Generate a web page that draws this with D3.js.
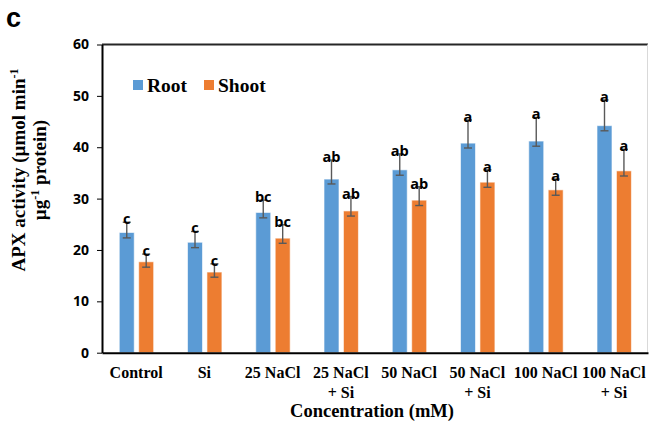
<!DOCTYPE html>
<html lang="en">
<head>
    <meta charset="UTF-8">
    <script src="https://d3js.org/d3.v7.min.js"></script>
    <style>
        body { margin: 0; background: #fff; }
    </style>
</head>
<body>
    <div id="chart"></div>
    <script>
        // values
        var categories = ["Control", "Si", "25 NaCl", "25 NaCl\n+ Si", "50 NaCl", "50 NaCl\n+ Si", "100 NaCl", "100 NaCl\n+ Si"];
        var series = ["Root", "Shoot"];
        var rootValues = [23.4, 21.5, 27.3, 33.8, 35.6, 40.8, 41.2, 44.2];
        var shootValues = [17.7, 15.7, 22.3, 27.6, 29.7, 33.2, 31.7, 35.4];
        // error bars look uneven in the picture: upper / lower part
        var rootErrUp = [2.0, 2.1, 2.4, 3.7, 3.1, 4.5, 4.6, 5.0];
        var rootErrDown = [1.05, 1.05, 1.05, 0.95, 1.05, 0.95, 1.0, 1.0];
        var shootErrUp = [1.5, 1.6, 2.6, 2.8, 2.6, 2.4, 2.1, 4.2];
        var shootErrDown = [1.05, 1.0, 1.0, 1.0, 1.05, 1.0, 1.05, 1.0];
        var rootLetters = ["c", "c", "bc", "ab", "ab", "a", "a", "a"];
        var shootLetters = ["c", "c", "bc", "ab", "ab", "a", "a", "a"];
        var yTicks = [0, 10, 20, 30, 40, 50, 60];

        var colors = { Root: "#5b9bd5", Shoot: "#ed7d31" };

        var width = 649, height = 423;
        var margin = { left: 102, right: 1, top: 44.5, bottom: 70.3 };

        var svg = d3.select("#chart")
            .append("svg")
            .attr("width", width)
            .attr("height", height);

        var x0 = d3.scaleBand()
            .domain(categories)
            .range([margin.left, width - margin.right])
            .padding(0);

        var bw = x0.bandwidth();
        var x1 = d3.scaleBand()
            .domain(series)
            .range([0.253 * bw, 0.757 * bw])
            .paddingInner(0.23);

        var y = d3.scaleLinear()
            .domain([0, 60])
            .range([height - margin.bottom, margin.top]);

        var rows = [];
        categories.forEach(function (c, i) {
            rows.push({ cat: c, s: "Root", v: rootValues[i], up: rootErrUp[i], down: rootErrDown[i], letter: rootLetters[i] });
            rows.push({ cat: c, s: "Shoot", v: shootValues[i], up: shootErrUp[i], down: shootErrDown[i], letter: shootLetters[i] });
        });

        // panel letter
        svg.append("text")
            .attr("x", 6)
            .attr("y", 27)
            .style("font-family", "Liberation Sans, Arial, sans-serif")
            .style("font-weight", "bold")
            .style("font-size", "27px")
            .text("c");

        // top and right frame
        svg.append("line")
            .attr("x1", margin.left).attr("x2", width - margin.right)
            .attr("y1", y(60)).attr("y2", y(60))
            .attr("stroke", "#262626").attr("stroke-width", 2);
        svg.append("line")
            .attr("x1", width - margin.right - 0.5).attr("x2", width - margin.right - 0.5)
            .attr("y1", y(60)).attr("y2", y(0))
            .attr("stroke", "#d9d9d9").attr("stroke-width", 1);

        // bars
        svg.append("g")
            .selectAll("rect")
            .data(rows)
            .enter()
            .append("rect")
            .attr("x", function (d) { return x0(d.cat) + x1(d.s); })
            .attr("y", function (d) { return y(d.v); })
            .attr("width", x1.bandwidth())
            .attr("height", function (d) { return y(0) - y(d.v); })
            .attr("fill", function (d) { return colors[d.s]; })
            .attr("stroke", "#ffffff")
            .attr("stroke-opacity", 0.6)
            .attr("stroke-width", 1);

        // error bars
        var eb = svg.append("g")
            .attr("stroke", "#595959")
            .attr("stroke-width", 1.4)
            .selectAll("g")
            .data(rows)
            .enter()
            .append("g")
            .attr("transform", function (d) { return "translate(" + (x0(d.cat) + x1(d.s) + x1.bandwidth() / 2) + ",0)"; });
        eb.append("line")
            .attr("y1", function (d) { return y(d.v + d.up); })
            .attr("y2", function (d) { return y(d.v - d.down); });
        eb.append("line")
            .attr("x1", -4).attr("x2", 4)
            .attr("y1", function (d) { return y(d.v + d.up); })
            .attr("y2", function (d) { return y(d.v + d.up); });
        eb.append("line")
            .attr("x1", -4).attr("x2", 4)
            .attr("y1", function (d) { return y(d.v - d.down); })
            .attr("y2", function (d) { return y(d.v - d.down); });

        // significance letters
        svg.append("g")
            .selectAll("text")
            .data(rows)
            .enter()
            .append("text")
            .attr("x", function (d) { return x0(d.cat) + x1(d.s) + x1.bandwidth() / 2; })
            .attr("y", function (d) { return y(d.v + d.up) + 2; })
            .attr("text-anchor", "middle")
            .style("font-family", "Open Sans, sans-serif")
            .style("font-weight", "bold")
            .style("font-size", "14.5px")
            .attr("fill", "#000")
            .text(function (d) { return d.letter; });

        // y axis
        var yAxis = svg.append("g")
            .attr("transform", "translate(" + margin.left + ",0)")
            .call(d3.axisLeft(y).tickValues(yTicks).tickSize(5).tickSizeOuter(0).tickPadding(8));
        yAxis.select(".domain").attr("stroke", "#000").attr("stroke-width", 2);
        yAxis.selectAll(".tick line").attr("stroke", "#000").attr("stroke-width", 1);
        yAxis.selectAll(".tick text")
            .style("font-family", "Open Sans, sans-serif")
            .style("font-weight", "bold")
            .style("font-size", "14px")
            .attr("fill", "#000");

        // x axis
        var xAxis = svg.append("g")
            .attr("transform", "translate(0," + y(0) + ")")
            .call(d3.axisBottom(x0).tickSize(0).tickSizeOuter(0).tickFormat(""));
        xAxis.select(".domain").attr("stroke", "#000").attr("stroke-width", 2);

        var catLabels = svg.append("g")
            .selectAll("text")
            .data(categories)
            .enter()
            .append("text")
            .attr("x", function (d) { return x0(d) + bw / 2; })
            .attr("y", y(0) + 25)
            .attr("text-anchor", "middle")
            .style("font-family", "Liberation Serif, Times New Roman, serif")
            .style("font-weight", "bold")
            .style("font-size", "16px");
        catLabels.selectAll("tspan")
            .data(function (d) { return d.split("\n"); })
            .enter()
            .append("tspan")
            .attr("x", function () { var p = this.parentNode.__data__; return x0(p) + bw / 2; })
            .attr("dy", function (d, i) { return i === 0 ? 0 : 20; })
            .text(function (d) { return d; });

        // axis titles
        svg.append("text")
            .attr("x", 372)
            .attr("y", 417)
            .attr("text-anchor", "middle")
            .style("font-family", "Liberation Serif, Times New Roman, serif")
            .style("font-weight", "bold")
            .style("font-size", "18.5px")
            .text("Concentration (mM)");

        var yt = svg.append("text")
            .attr("transform", "translate(0,170) rotate(-90)")
            .attr("text-anchor", "middle")
            .style("font-family", "Liberation Serif, Times New Roman, serif")
            .style("font-weight", "bold")
            .style("font-size", "19px");
        var l1 = yt.append("tspan").attr("x", 0).attr("y", 25);
        l1.append("tspan").text("APX activity (\u00b5mol min");
        l1.append("tspan").attr("dy", -7).style("font-size", "12px").text("-1");
        var l2 = yt.append("tspan").attr("x", 0).attr("y", 46);
        l2.append("tspan").text("\u00b5g");
        l2.append("tspan").attr("dy", -7).style("font-size", "12px").text("-1");
        l2.append("tspan").attr("dy", 7).text(" protein)");

        // legend
        var legendX = [133, 204];
        var legend = svg.append("g")
            .selectAll("g")
            .data(series)
            .enter()
            .append("g")
            .attr("transform", function (d, i) { return "translate(" + legendX[i] + ",80)"; });
        legend.append("rect")
            .attr("width", 10).attr("height", 10)
            .attr("fill", function (d) { return colors[d]; });
        legend.append("text")
            .attr("x", 14)
            .attr("y", 11.5)
            .style("font-family", "Liberation Serif, Times New Roman, serif")
            .style("font-weight", "bold")
            .style("font-size", "19.5px")
            .text(function (d) { return d; });
    </script>
</body>
</html>
